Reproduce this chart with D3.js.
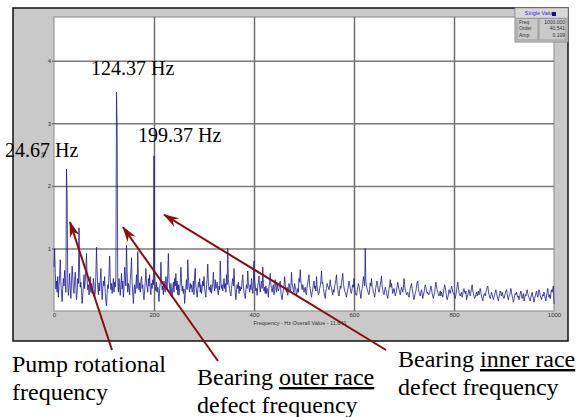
<!DOCTYPE html>
<html>
<head>
<meta charset="utf-8">
<script src="https://cdn.jsdelivr.net/npm/d3@7"></script>
<style>
  body { margin: 0; background: #fff; }
  svg { display: block; }
  .serif { font-family: "Liberation Serif", "Times New Roman", serif; }
  .tiny { font-family: "Liberation Sans", Arial, sans-serif; }
</style>
</head>
<body>
<script>
// spectrum amplitude (%), one value every 1.25 Hz from 0 to 1000 Hz
var freqStep = 1.25;
var amps = [
  0.70,1.00,0.62,0.35,0.48,0.30,0.55,0.22,0.40,0.58,
  0.82,0.45,0.28,0.15,0.36,0.52,0.40,0.65,0.48,0.30,
  2.27,1.82,0.42,0.25,0.38,0.60,0.35,0.20,0.46,0.72,
  0.55,0.34,0.28,0.48,0.62,0.40,0.18,0.30,0.52,0.44,
  1.33,0.62,0.38,0.46,0.30,0.12,0.25,0.40,0.58,0.36,
  0.48,0.70,0.92,0.50,0.34,0.42,0.26,0.38,0.55,0.30,
  0.44,0.28,0.35,0.52,0.40,0.22,0.30,0.58,1.02,0.64,
  0.38,0.26,0.45,0.32,0.50,0.68,0.40,0.18,0.36,0.48,
  0.40,0.55,0.30,0.15,0.08,0.28,0.42,0.36,0.60,0.88,
  0.50,0.34,0.44,0.28,0.40,0.52,0.30,0.46,0.38,0.56,
  3.50,2.93,0.45,0.30,0.52,0.38,0.25,0.42,0.60,0.35,
  0.48,0.22,0.36,0.70,0.55,0.40,1.05,0.62,0.30,0.44,
  0.38,0.26,0.50,0.64,0.85,0.46,0.30,0.12,0.34,0.42,
  0.28,0.40,0.58,0.36,0.95,0.52,0.34,0.45,0.30,0.48,
  0.55,0.36,0.42,0.25,0.18,0.32,0.46,0.68,0.44,0.38,
  0.30,0.52,0.40,0.58,0.34,0.26,0.44,0.36,0.50,0.42,
  2.48,0.60,0.40,0.32,0.46,0.30,0.38,0.28,0.15,0.36,
  0.44,0.78,0.52,0.34,0.40,0.26,0.48,0.36,0.30,0.55,
  0.42,0.35,0.60,0.92,0.50,0.36,0.28,0.44,0.32,0.22,
  0.38,0.46,0.30,0.52,0.40,0.60,0.34,0.48,0.26,0.42,
  0.25,0.36,0.44,0.70,0.48,0.32,0.40,0.28,0.35,0.12,
  0.26,0.40,0.50,0.34,0.82,0.55,0.38,0.30,0.44,0.36,
  0.42,0.30,0.36,0.48,0.26,0.58,0.68,0.40,0.32,0.22,
  0.34,0.46,0.38,0.52,0.30,0.42,0.28,0.36,0.48,0.40,
  0.55,0.36,0.28,0.22,0.40,0.50,0.75,0.46,0.34,0.38,
  0.30,0.42,0.28,0.36,0.44,0.62,0.40,0.32,0.50,0.36,
  0.38,0.46,0.30,0.26,0.40,0.34,0.80,0.48,0.36,0.42,
  0.32,0.40,0.52,0.36,0.44,0.30,0.58,0.42,1.00,0.50,
  0.42,0.34,0.28,0.24,0.36,0.46,0.52,0.40,0.68,0.44,
  0.30,0.18,0.34,0.42,0.36,0.46,0.28,0.40,0.32,0.38,
  0.35,0.50,0.58,0.40,0.30,0.26,0.20,0.34,0.42,0.36,
  0.64,0.45,0.38,0.30,0.42,0.34,0.52,0.40,0.28,0.46,
  0.80,0.48,0.40,0.32,0.36,0.25,0.40,0.46,0.56,0.38,
  0.30,0.42,0.48,0.36,0.70,0.44,0.32,0.38,0.28,0.40,
  0.28,0.36,0.34,0.22,0.40,0.45,0.60,0.42,0.36,0.30,
  0.38,0.42,0.26,0.34,0.50,0.40,0.30,0.44,0.36,0.32,
  0.36,0.44,0.48,0.30,0.22,0.18,0.28,0.36,0.40,0.55,
  0.42,0.34,0.30,0.38,0.25,0.32,0.44,0.38,0.30,0.36,
  0.62,0.44,0.40,0.32,0.30,0.44,0.38,0.35,0.24,0.30,
  0.36,0.30,0.52,0.46,0.66,0.48,0.40,0.34,0.42,0.38,
  0.30,0.36,0.38,0.28,0.26,0.40,0.45,0.52,0.58,0.40,
  0.36,0.28,0.22,0.30,0.34,0.42,0.48,0.36,0.40,0.32,
  0.55,0.40,0.32,0.26,0.28,0.36,0.40,0.48,0.64,0.44,
  0.46,0.36,0.30,0.24,0.20,0.32,0.36,0.44,0.40,0.38,
  0.34,0.42,0.50,0.40,0.38,0.30,0.26,0.34,0.30,0.40,
  0.44,0.50,0.58,0.42,0.35,0.28,0.24,0.32,0.40,0.36,
  0.46,0.52,0.60,0.44,0.38,0.32,0.30,0.26,0.22,0.30,
  0.34,0.40,0.48,0.42,0.36,0.30,0.28,0.36,0.42,0.38,
  0.52,0.38,0.30,0.26,0.25,0.32,0.38,0.44,0.40,0.34,
  0.28,0.20,0.30,0.36,0.44,0.55,0.48,0.40,1.00,0.46,
  0.40,0.36,0.32,0.28,0.26,0.34,0.45,0.40,0.52,0.38,
  0.36,0.30,0.28,0.22,0.30,0.38,0.44,0.48,0.40,0.34,
  0.30,0.36,0.42,0.48,0.56,0.40,0.34,0.28,0.26,0.32,
  0.38,0.34,0.30,0.24,0.20,0.28,0.35,0.42,0.50,0.38,
  0.44,0.36,0.28,0.32,0.36,0.30,0.24,0.28,0.32,0.40,
  0.46,0.40,0.34,0.30,0.26,0.32,0.38,0.34,0.30,0.36,
  0.52,0.42,0.34,0.30,0.26,0.28,0.30,0.24,0.22,0.30,
  0.36,0.40,0.44,0.36,0.30,0.22,0.18,0.24,0.28,0.32,
  0.40,0.46,0.48,0.36,0.30,0.28,0.24,0.30,0.34,0.28,
  0.20,0.26,0.30,0.36,0.42,0.38,0.32,0.28,0.30,0.26,
  0.26,0.30,0.34,0.40,0.36,0.28,0.24,0.20,0.26,0.30,
  0.38,0.46,0.40,0.34,0.30,0.26,0.24,0.28,0.32,0.24,
  0.30,0.26,0.22,0.28,0.36,0.42,0.38,0.30,0.24,0.18,
  0.22,0.26,0.34,0.30,0.28,0.34,0.40,0.36,0.30,0.28,
  0.28,0.24,0.20,0.26,0.32,0.40,0.46,0.38,0.30,0.26,
  0.24,0.28,0.30,0.22,0.26,0.34,0.36,0.30,0.28,0.32,
  0.18,0.22,0.26,0.30,0.34,0.28,0.24,0.30,0.36,0.42,
  0.32,0.28,0.24,0.20,0.22,0.26,0.30,0.24,0.28,0.32,
  0.26,0.30,0.36,0.30,0.24,0.20,0.16,0.22,0.26,0.28,
  0.24,0.30,0.34,0.38,0.40,0.32,0.26,0.22,0.20,0.24,
  0.30,0.26,0.22,0.18,0.22,0.26,0.30,0.34,0.28,0.24,
  0.20,0.16,0.22,0.28,0.32,0.28,0.24,0.30,0.26,0.22,
  0.20,0.24,0.28,0.32,0.34,0.28,0.22,0.18,0.24,0.26,
  0.30,0.36,0.30,0.24,0.20,0.14,0.18,0.24,0.28,0.26,
  0.30,0.26,0.22,0.24,0.18,0.22,0.28,0.32,0.26,0.20,
  0.24,0.28,0.16,0.20,0.26,0.24,0.30,0.34,0.28,0.24,
  0.22,0.18,0.16,0.22,0.26,0.30,0.24,0.20,0.14,0.20,
  0.24,0.28,0.32,0.26,0.22,0.28,0.34,0.30,0.24,0.22,
  0.18,0.22,0.26,0.24,0.30,0.26,0.20,0.16,0.24,0.30,
  0.36,0.28,0.22,0.26,0.20,0.28,0.34,0.30,0.36,0.40,
  0.109
];

var xTicks = [0, 200, 400, 600, 800, 1000];
var yTicks = [1, 2, 3, 4];
var peakFreqs = [24.67, 124.37, 199.37];
// where each arrow points, in chart units [Hz, %]
var arrowTips = [[32, 1.42], [138, 1.34], [220, 1.54]];
var readout = [["Freq", "1000.000"], ["Order", "40.541"], ["Amp", "0.109"]];

var w = 580, h = 417;
var svg = d3.select("body").append("svg")
    .attr("width", w)
    .attr("height", h);

// instrument panel
svg.append("rect")
    .attr("x", 13).attr("y", 8)
    .attr("width", 555).attr("height", 333)
    .attr("fill", "#c9c9c9")
    .attr("stroke", "#111")
    .attr("stroke-width", 1.5);

var x = d3.scaleLinear().domain([0, 1000]).range([54, 554]);
var y = d3.scaleLinear().domain([0, 4.7]).range([311, 17]);

svg.append("rect")
    .attr("x", 54).attr("y", 17)
    .attr("width", 500).attr("height", 294)
    .attr("fill", "#fff")
    .attr("stroke", "#8a8a8a");

// vertical grid
var gx = svg.append("g")
    .attr("transform", "translate(0,311)")
    .call(d3.axisBottom(x).tickValues([200, 400, 600, 800]).tickSize(-294).tickFormat(""));
gx.select(".domain").remove();
gx.selectAll("line").attr("stroke", "#6e6e6e").attr("stroke-width", 1.5);

// horizontal grid + y labels
var gy = svg.append("g")
    .attr("transform", "translate(54,0)")
    .call(d3.axisLeft(y).tickValues(yTicks).tickSize(-500).tickPadding(3).tickFormat(d3.format("d")));
gy.select(".domain").remove();
gy.selectAll("line").attr("x1", -2).attr("stroke", "#7a7a7a").attr("stroke-width", 1.5);
gy.selectAll("text").attr("class", "tiny").attr("font-size", "6px").attr("fill", "#333");

// x labels
var gxl = svg.append("g")
    .attr("transform", "translate(0,311)")
    .call(d3.axisBottom(x).tickValues(xTicks).tickSize(0).tickPadding(2).tickFormat(d3.format("d")));
gxl.select(".domain").remove();
gxl.selectAll("text").attr("class", "tiny").attr("font-size", "6px").attr("fill", "#333");
gxl.attr("font-family", null);
gy.attr("font-family", null);

svg.append("text")
    .attr("class", "tiny")
    .attr("x", 300).attr("y", 325)
    .attr("text-anchor", "middle")
    .attr("font-size", "5.5px")
    .attr("fill", "#333")
    .text("Frequency - Hz   Overall Value - 11.641");

svg.append("text")
    .attr("class", "tiny")
    .attr("transform", "translate(46,155) rotate(-90)")
    .attr("text-anchor", "middle")
    .attr("font-size", "7px")
    .attr("fill", "#444")
    .text("%");

// spectrum
var line = d3.line()
    .x(function(d, i) { return x(i * freqStep); })
    .y(function(d) { return y(d); });

svg.append("path")
    .datum(amps)
    .attr("d", line)
    .attr("fill", "none")
    .attr("stroke", "#1a1a9a")
    .attr("stroke-width", 1)
    .attr("stroke-opacity", 0.8);

// readout box, top right
var box = svg.append("g").attr("class", "tiny");
box.append("rect").attr("x", 515).attr("y", 8).attr("width", 53).attr("height", 34)
    .attr("fill", "#c9c9c9").attr("stroke", "#8a8a8a");
box.append("rect").attr("x", 515.5).attr("y", 8.5).attr("width", 52).attr("height", 8.5)
    .attr("fill", "#d8d8d8");
box.append("text").attr("x", 540).attr("y", 15)
    .attr("text-anchor", "middle")
    .attr("font-size", "5.5px")
    .attr("fill", "#2a2af0").text("Single Value");
box.append("rect").attr("x", 552).attr("y", 12).attr("width", 4).attr("height", 4).attr("fill", "#101080");
box.append("rect").attr("x", 517).attr("y", 18.5).attr("width", 21).attr("height", 21.5)
    .attr("fill", "none").attr("stroke", "#9a9a9a");
box.append("rect").attr("x", 539).attr("y", 18.5).attr("width", 27).attr("height", 21.5)
    .attr("fill", "none").attr("stroke", "#9a9a9a");

var rows = box.selectAll("g.row").data(readout).enter().append("g").attr("class", "row");
rows.append("text")
    .attr("x", 519).attr("y", function(d, i) { return 24 + i * 6.3; })
    .attr("font-size", "5px").attr("fill", "#333")
    .text(function(d) { return d[0]; });
rows.append("text")
    .attr("x", 565).attr("y", function(d, i) { return 24 + i * 6.3; })
    .attr("text-anchor", "end")
    .attr("font-size", "5px").attr("fill", "#333")
    .text(function(d) { return d[1]; });

// peak labels
var peakPos = [[5, 157], [91, 75], [138, 142]];
svg.selectAll("text.peak")
    .data(peakFreqs)
    .enter().append("text")
    .attr("class", "peak serif")
    .attr("x", function(d, i) { return peakPos[i][0]; })
    .attr("y", function(d, i) { return peakPos[i][1]; })
    .attr("font-size", "20px")
    .attr("fill", "#000")
    .text(function(d) { return d3.format(".2f")(d) + " Hz"; });

// arrows
var red = "#8c0d0d";
svg.append("defs").append("marker")
    .attr("id", "head")
    .attr("markerUnits", "userSpaceOnUse")
    .attr("viewBox", "-16 -6 18 12")
    .attr("refX", 0).attr("refY", 0)
    .attr("markerWidth", 18).attr("markerHeight", 12)
    .attr("orient", "auto")
    .append("path")
    .attr("d", "M1,0 L-15,-5 L-10,0 L-15,5 Z")
    .attr("fill", red);

var tails = [[112, 350], [218, 361], [386, 350]];
svg.selectAll("line.arrow")
    .data(arrowTips)
    .enter().append("line")
    .attr("class", "arrow")
    .attr("x1", function(d, i) { return tails[i][0]; })
    .attr("y1", function(d, i) { return tails[i][1]; })
    .attr("x2", function(d) { return x(d[0]); })
    .attr("y2", function(d) { return y(d[1]); })
    .attr("stroke", red)
    .attr("stroke-width", 2)
    .attr("marker-end", "url(#head)");

// captions under the panel
function caption(x0, y0, parts) {
    var t = svg.append("text")
        .attr("class", "serif")
        .attr("font-size", "24px")
        .attr("fill", "#000");
    parts.forEach(function(line, i) {
        var ts = t.append("tspan").attr("x", x0).attr("y", y0 + i * 28);
        line.forEach(function(p) {
            var s = ts.append("tspan").text(p[0]);
            if (p[1]) s.style("text-decoration", "underline");
        });
    });
}
caption(12, 372, [[["Pump rotational"]], [["frequency"]]]);
caption(197, 385, [[["Bearing "], ["outer race", true]], [["defect frequency"]]]);
caption(398, 367, [[["Bearing "], ["inner race", true]], [["defect frequency"]]]);
</script>
</body>
</html>
